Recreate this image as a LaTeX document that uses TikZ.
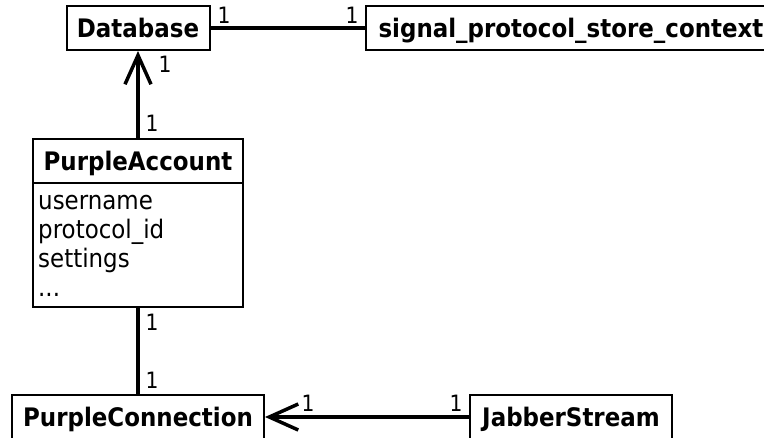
\documentclass[tikz,border=0pt]{standalone}
\usepackage{fontspec}
\setmainfont{DejaVu Sans}[FakeStretch=0.9]
\usetikzlibrary{arrows.meta}
\begin{document}
\begin{tikzpicture}[x=1pt, y=-1pt,
  classbox/.style={draw, line width=2pt, inner sep=0pt, minimum height=44pt,
    font=\fontsize{25.5}{30}\selectfont\bfseries, text height=18.6pt, text depth=0pt},
  attr/.style={anchor=base west, inner sep=0pt, font=\fontsize{25.5}{30}\selectfont},
  mult/.style={inner sep=0pt, font=\fontsize{22.5}{26}\selectfont, text height=16.4pt, text depth=0pt},
  link/.style={line width=3.5pt},
  nav/.style={link, -{Straight Barb[length=29pt, width=26pt]}}]
\useasboundingbox (0,0) rectangle (764,437);
\clip (0,0) rectangle (764,437);

% classes
\node[classbox, minimum width=143pt] (db) at (138,28) {Database};
\node[classbox, minimum width=410pt, anchor=west] (ctx) at (365,28) {signal\_protocol\_store\_context};
\node[classbox, outer sep=0pt, minimum width=210pt] (acct) at (138,161) {PurpleAccount};
\node[draw, line width=2pt, inner sep=0pt, outer sep=0pt, minimum width=210pt, minimum height=124pt, anchor=north] (acctbody) at (acct.south) {};
\node[attr] (a1) at (38,209) {username};
\node[attr] (a2) at (38,238.5) {protocol\_id};
\node[attr] (a3) at (38,267.5) {settings};
\node[attr] (a4) at (38,296) {...};
\node[classbox, minimum width=252pt] (conn) at (138,417) {PurpleConnection};
\node[classbox, minimum width=202pt] (jab) at (571,417) {JabberStream};

% associations
\draw[link] (db) -- (ctx);
\draw[nav] (acct.north) -- (db.south);
\draw[link] (acctbody.south) -- (conn.north);
\draw[nav] (jab.west) -- (conn.east);

% multiplicities
\node[mult] (m1) at (224,15) {1};
\node[mult] (m2) at (352,15) {1};
\node[mult] (m3) at (165,64) {1};
\node[mult] (m4) at (152,123) {1};
\node[mult] (m5) at (152,322) {1};
\node[mult] (m6) at (152,380) {1};
\node[mult] (m7) at (308,403) {1};
\node[mult] (m8) at (456,403) {1};
\end{tikzpicture}
\end{document}
